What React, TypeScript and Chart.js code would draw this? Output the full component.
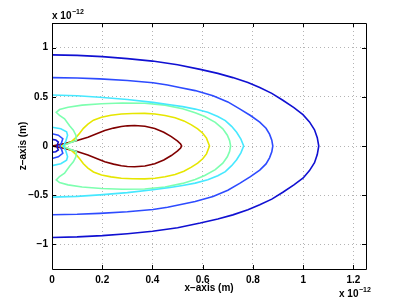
import React, { useEffect, useRef } from "react";
import { Chart, registerables } from "chart.js";

Chart.register(...registerables);

const xTickValues = [0, 0.2, 0.4, 0.6, 0.8, 1, 1.2];
const xTickLabels = ["0", "0.2", "0.4", "0.6", "0.8", "1", "1.2"];
const yTickValues = [-1, -0.5, 0, 0.5, 1];
const yTickLabels = ["\u22121", "\u22120.5", "0", "0.5", "1"];

// contour lines, values in units of 1e-12 m: [x, z]
const outerBlue: number[][] = [
  [0, 0.926], [0.1, 0.921], [0.2, 0.908], [0.3, 0.888], [0.4, 0.863], [0.5, 0.826],
  [0.59, 0.779], [0.66, 0.738], [0.72, 0.695], [0.78, 0.645], [0.827, 0.594], [0.875, 0.535],
  [0.919, 0.465], [0.963, 0.39], [0.999, 0.319], [1.025, 0.245], [1.045, 0.165], [1.056, 0.085],
  [1.062, 0],
  [1.056, -0.087], [1.045, -0.17], [1.025, -0.25], [1.0, -0.325], [0.963, -0.395],
  [0.919, -0.47], [0.875, -0.54], [0.827, -0.598], [0.78, -0.648], [0.72, -0.7],
  [0.66, -0.742], [0.59, -0.783], [0.5, -0.83], [0.4, -0.866], [0.3, -0.891],
  [0.2, -0.911], [0.1, -0.924], [0, -0.93],
];
const midBlue: number[][] = [
  [0, 0.695], [0.1, 0.691], [0.19, 0.682], [0.3, 0.666], [0.402, 0.642], [0.46, 0.62],
  [0.508, 0.595], [0.57, 0.563], [0.641, 0.511], [0.7, 0.448], [0.747, 0.377], [0.79, 0.31],
  [0.827, 0.242], [0.852, 0.18], [0.866, 0.12], [0.875, 0.06], [0.879, 0],
  [0.875, -0.06], [0.866, -0.12], [0.852, -0.182], [0.827, -0.245], [0.79, -0.312],
  [0.747, -0.38], [0.7, -0.45], [0.641, -0.513], [0.57, -0.565], [0.508, -0.597],
  [0.46, -0.622], [0.402, -0.645], [0.3, -0.668], [0.19, -0.685], [0.1, -0.694], [0, -0.698],
];
const cyanLine: number[][] = [
  [0, 0.518], [0.1, 0.51], [0.19, 0.495], [0.3, 0.472], [0.402, 0.443], [0.47, 0.42],
  [0.52, 0.4], [0.57, 0.375], [0.62, 0.342], [0.66, 0.3], [0.69, 0.258], [0.715, 0.2],
  [0.735, 0.14], [0.752, 0.07], [0.763, 0],
  [0.752, -0.07], [0.735, -0.14], [0.715, -0.2], [0.69, -0.26], [0.66, -0.302],
  [0.62, -0.344], [0.57, -0.377], [0.52, -0.402], [0.47, -0.422], [0.402, -0.445],
  [0.3, -0.474], [0.19, -0.497], [0.1, -0.512], [0, -0.52],
];
const greenLine: number[][] = [
  [0.04, 0], [0.07, 0.03], [0.097, 0.057], [0.095, 0.11], [0.085, 0.16], [0.07, 0.205],
  [0.05, 0.276], [0.03, 0.31], [0.017, 0.342], [0.03, 0.37], [0.064, 0.393], [0.12, 0.415],
  [0.197, 0.43], [0.28, 0.437], [0.369, 0.435], [0.45, 0.415], [0.52, 0.378], [0.57, 0.338],
  [0.608, 0.3], [0.65, 0.24], [0.68, 0.175], [0.698, 0.11], [0.707, 0.055], [0.711, 0],
  [0.707, -0.055], [0.698, -0.11], [0.68, -0.175], [0.65, -0.24], [0.608, -0.3],
  [0.57, -0.34], [0.52, -0.38], [0.45, -0.417], [0.369, -0.437], [0.28, -0.439],
  [0.197, -0.432], [0.12, -0.417], [0.064, -0.395], [0.03, -0.372], [0.017, -0.344],
  [0.03, -0.31], [0.05, -0.276], [0.07, -0.205], [0.085, -0.16], [0.095, -0.11],
  [0.097, -0.057], [0.07, -0.03], [0.04, 0],
];
const yellowLine: number[][] = [
  [0.036, 0], [0.06, 0.02], [0.077, 0.045], [0.095, 0.085], [0.11, 0.13], [0.125, 0.18],
  [0.143, 0.222], [0.165, 0.262], [0.197, 0.292], [0.235, 0.312], [0.276, 0.325],
  [0.32, 0.331], [0.369, 0.332], [0.41, 0.325], [0.45, 0.31], [0.49, 0.288], [0.525, 0.255],
  [0.555, 0.215], [0.58, 0.175], [0.6, 0.13], [0.615, 0.08], [0.627, 0],
  [0.615, -0.08], [0.6, -0.13], [0.58, -0.175], [0.555, -0.215], [0.525, -0.257],
  [0.49, -0.29], [0.45, -0.312], [0.41, -0.327], [0.369, -0.334], [0.32, -0.333],
  [0.276, -0.327], [0.235, -0.314], [0.197, -0.294], [0.165, -0.264], [0.143, -0.224],
  [0.125, -0.18], [0.11, -0.13], [0.095, -0.085], [0.077, -0.045], [0.06, -0.02], [0.036, 0],
];
const redLine: number[][] = [
  [0, 0], [0.05, 0.024], [0.1, 0.055], [0.143, 0.09], [0.18, 0.128], [0.21, 0.158],
  [0.245, 0.182], [0.276, 0.198], [0.3, 0.205], [0.329, 0.208], [0.37, 0.2], [0.409, 0.178],
  [0.445, 0.14], [0.475, 0.095], [0.5, 0.05], [0.512, 0.02], [0.516, 0],
  [0.512, -0.02], [0.5, -0.05], [0.475, -0.097], [0.445, -0.142], [0.409, -0.18],
  [0.37, -0.203], [0.329, -0.211], [0.3, -0.208], [0.276, -0.2], [0.245, -0.184],
  [0.21, -0.16], [0.18, -0.13], [0.143, -0.092], [0.1, -0.056], [0.05, -0.024], [0, 0],
];
const smallDark: number[][] = [
  [0, 0.067], [0.015, 0.062], [0.025, 0.04], [0.022, 0.015], [0.02, 0],
  [0.022, -0.015], [0.025, -0.04], [0.015, -0.058], [0, -0.062],
];
const smallBlue: number[][] = [
  [0, 0.125], [0.025, 0.11], [0.043, 0.074], [0.038, 0.035], [0.033, 0.012], [0.03, 0],
  [0.033, -0.012], [0.038, -0.035], [0.043, -0.074], [0.025, -0.11], [0, -0.127],
];
const smallCyan: number[][] = [
  [0, 0.19], [0.035, 0.175], [0.058, 0.145], [0.062, 0.11], [0.055, 0.05], [0.049, 0.02],
  [0.045, 0], [0.049, -0.02], [0.055, -0.05], [0.062, -0.11], [0.058, -0.145],
  [0.035, -0.18], [0, -0.2],
];

const C_DARK = "rgb(16,16,210)";
const C_BLUE = "rgb(45,75,255)";
const C_CYAN = "rgb(70,232,255)";
const C_GREEN = "rgb(125,255,175)";
const C_YELLOW = "rgb(230,230,0)";
const C_RED = "rgb(128,0,0)";

const lines: { data: number[][]; color: string }[] = [
  { data: outerBlue, color: C_DARK },
  { data: midBlue, color: C_BLUE },
  { data: cyanLine, color: C_CYAN },
  { data: smallDark, color: C_DARK },
  { data: smallBlue, color: C_BLUE },
  { data: smallCyan, color: C_CYAN },
  { data: greenLine, color: C_GREEN },
  { data: yellowLine, color: C_YELLOW },
  { data: redLine, color: C_RED },
];

const FONT = '"Liberation Sans", Arial, sans-serif';

const framePlugin = {
  id: "frame",
  afterDraw(chart: any) {
    const { ctx, chartArea } = chart;
    const { left, right, top, bottom } = chartArea;
    const xs = chart.scales.x;
    const ys = chart.scales.y;
    ctx.save();
    ctx.strokeStyle = "#000";
    ctx.lineWidth = 1;
    ctx.beginPath();
    ctx.rect(Math.round(left) + 0.5, Math.round(top) + 0.5, Math.round(right - left), Math.round(bottom - top));
    ctx.stroke();
    const tl = 4;
    ctx.beginPath();
    xTickValues.forEach((v) => {
      const px = Math.round(xs.getPixelForValue(v)) + 0.5;
      ctx.moveTo(px, bottom);
      ctx.lineTo(px, bottom - tl);
      ctx.moveTo(px, top);
      ctx.lineTo(px, top + tl);
    });
    yTickValues.forEach((v) => {
      const py = Math.round(ys.getPixelForValue(v)) + 0.5;
      ctx.moveTo(left, py);
      ctx.lineTo(left + tl, py);
      ctx.moveTo(right, py);
      ctx.lineTo(right - tl, py);
    });
    ctx.stroke();

    ctx.fillStyle = "#000";
    ctx.font = `bold 10px ${FONT}`;
    ctx.textAlign = "center";
    ctx.textBaseline = "middle";
    ctx.fillText("x\u2212axis (m)", (left + right) / 2, 288);
    ctx.save();
    ctx.translate(23, (top + bottom) / 2);
    ctx.rotate(-Math.PI / 2);
    ctx.fillText("z\u2212axis (m)", 0, 0);
    ctx.restore();

    const drawExp = (x: number, y: number) => {
      ctx.textAlign = "left";
      ctx.textBaseline = "alphabetic";
      ctx.font = `bold 10px ${FONT}`;
      ctx.fillText("x 10", x, y);
      const w = ctx.measureText("x 10").width;
      ctx.font = `bold 7px ${FONT}`;
      ctx.fillText("\u221212", x + w + 0.5, y - 5);
    };
    drawExp(left, 18.5);
    drawExp(339, 296.5);
    ctx.restore();
  },
};

export default function App() {
  const ref = useRef<HTMLCanvasElement | null>(null);
  useEffect(() => {
    if (!ref.current) return;
    const chart = new Chart(ref.current, {
      type: "scatter",
      data: {
        datasets: lines.map((l) => ({
          data: l.data.map((p) => ({ x: p[0], y: p[1] })),
          showLine: true,
          borderColor: l.color,
          backgroundColor: l.color,
          borderWidth: 1.6,
          pointRadius: 0,
          pointHoverRadius: 0,
          fill: false,
          tension: 0,
        })),
      },
      options: {
        animation: false,
        responsive: false,
        devicePixelRatio: 1,
        layout: { padding: { top: 23, right: 39, left: 0, bottom: 0 } },
        plugins: { legend: { display: false }, tooltip: { enabled: false } },
        scales: {
          x: {
            type: "linear",
            min: 0,
            max: 1.25,
            afterBuildTicks: (s: any) => {
              s.ticks = xTickValues.map((v) => ({ value: v }));
            },
            afterFit: (s: any) => {
              s.height = 35;
            },
            ticks: {
              padding: 5,
              maxRotation: 0,
              autoSkip: false,
              color: "#000",
              font: { family: FONT, size: 10, weight: "bold" },
              callback: (v: any) => {
                const i = xTickValues.indexOf(v);
                return i >= 0 ? xTickLabels[i] : "";
              },
            },
            grid: { color: "#b4b4b4", lineWidth: 1, drawTicks: false },
            border: { display: false, dash: [1, 3] },
          },
          y: {
            type: "linear",
            min: -1.25,
            max: 1.25,
            afterBuildTicks: (s: any) => {
              s.ticks = yTickValues.map((v) => ({ value: v }));
            },
            afterFit: (s: any) => {
              s.width = 52;
            },
            ticks: {
              padding: 4,
              autoSkip: false,
              color: "#000",
              font: { family: FONT, size: 10, weight: "bold" },
              callback: (v: any) => {
                const i = yTickValues.indexOf(v);
                return i >= 0 ? yTickLabels[i] : "";
              },
            },
            grid: { color: "#b4b4b4", lineWidth: 1, drawTicks: false },
            border: { display: false, dash: [1, 3] },
          },
        },
      },
      plugins: [framePlugin],
    });
    return () => chart.destroy();
  }, []);
  return (
    <div style={{ position: "fixed", left: 0, top: 0, width: 405, height: 304, background: "#fff" }}>
      <canvas ref={ref} width={405} height={304} style={{ display: "block" }} />
    </div>
  );
}
